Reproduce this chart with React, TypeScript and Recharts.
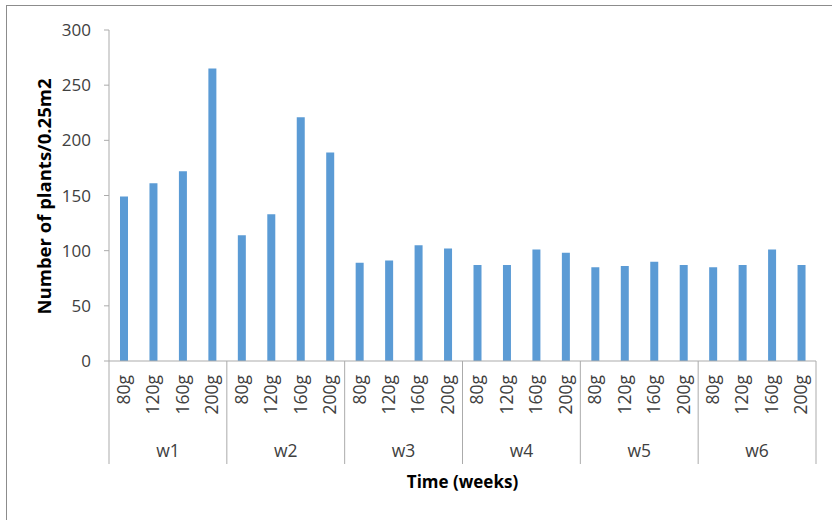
import React from 'react';
import { BarChart, Bar, XAxis, YAxis, Label } from 'recharts';

const weeks = ['w1', 'w2', 'w3', 'w4', 'w5', 'w6'];
const doses = ['80g', '120g', '160g', '200g'];
const w1 = [149, 161, 172, 265];
const w2 = [114, 133, 221, 189];
const w3 = [89, 91, 105, 102];
const w4 = [87, 87, 101, 98];
const w5 = [85, 86, 90, 87];
const w6 = [85, 87, 101, 87];
const weekValues = [w1, w2, w3, w4, w5, w6];
const yTicks = [0, 50, 100, 150, 200, 250, 300];

const data = weeks.flatMap((week, wi) =>
  doses.map((dose, di) => ({ key: `${week}-${dose}`, week, dose, value: weekValues[wi][di] }))
);

const FONT = '"Open Sans", sans-serif';
const AXIS = '#ABABAB';

const CategoryTick = (props: any) => {
  const { x, y, payload, index } = props;
  const off = payload.offset || 0;
  const i = typeof index === 'number' ? index : payload.index;
  const dose = doses[i % doses.length];
  const week = weeks[Math.floor(i / doses.length)];
  const isFirst = i % doses.length === 0;
  const isLast = i === data.length - 1;
  return (
    <g>
      <text
        x={x}
        y={y + 14}
        transform={`rotate(-90, ${x}, ${y + 14})`}
        textAnchor="end"
        dy="0.35em"
        fontFamily={FONT}
        fontSize={17.5}
        fill="#404040"
      >
        {dose}
      </text>
      {isFirst && (
        <>
          <line x1={x - off} y1={y} x2={x - off} y2={y + 103} stroke={AXIS} strokeWidth={1} />
          <text
            x={x + 3 * off}
            y={y + 96}
            textAnchor="middle"
            fontFamily={FONT}
            fontSize={17.5}
            fill="#404040"
          >
            {week}
          </text>
        </>
      )}
      {isLast && <line x1={x + off} y1={y} x2={x + off} y2={y + 103} stroke={AXIS} strokeWidth={1} />}
    </g>
  );
};

export default function App() {
  return (
    <div style={{ position: 'absolute', left: 0, top: 0, width: 832, height: 520, overflow: 'hidden', background: '#fff' }}>
      <div
        style={{
          position: 'absolute',
          left: 6,
          top: 5,
          width: 900,
          height: 600,
          border: '1px solid #8C8C8C',
          boxSizing: 'border-box',
        }}
      />
      <div style={{ position: 'absolute', left: 0, top: 0 }}>
        <BarChart width={832} height={520} data={data} margin={{ top: 30, right: 16, left: 0, bottom: 0 }}>
          <XAxis
            dataKey="key"
            interval={0}
            height={159}
            tickLine={false}
            tickSize={0}
            tickMargin={0}
            stroke={AXIS}
            tick={<CategoryTick />}
          >
            <Label
              content={(p: any) => {
                const vb = p.viewBox || {};
                return (
                  <text
                    x={vb.x + vb.width / 2}
                    y={vb.y + 127}
                    textAnchor="middle"
                    fontFamily={FONT}
                    fontSize={17}
                    fontWeight="bold"
                    fill="#000"
                  >
                    Time (weeks)
                  </text>
                );
              }}
            />
          </XAxis>
          <YAxis
            width={109}
            domain={[0, 300]}
            ticks={yTicks}
            interval={0}
            tickSize={5}
            tickMargin={13}
            stroke={AXIS}
            tick={{ fontFamily: FONT, fontSize: 17, fill: '#404040' }}
          >
            <Label
              content={(p: any) => {
                const vb = p.viewBox || {};
                const cx = 45;
                const cy = vb.y + vb.height / 2 + 1;
                return (
                  <text
                    x={cx}
                    y={cy}
                    transform={`rotate(-90, ${cx}, ${cy})`}
                    textAnchor="middle"
                    dy="0.35em"
                    fontFamily={FONT}
                    fontSize={18.5}
                    fontWeight="bold"
                    fill="#000"
                  >
                    Number of plants/0.25m2
                  </text>
                );
              }}
            />
          </YAxis>
          <Bar dataKey="value" fill="#5B9BD5" barSize={8} isAnimationActive={false} />
        </BarChart>
      </div>
    </div>
  );
}
